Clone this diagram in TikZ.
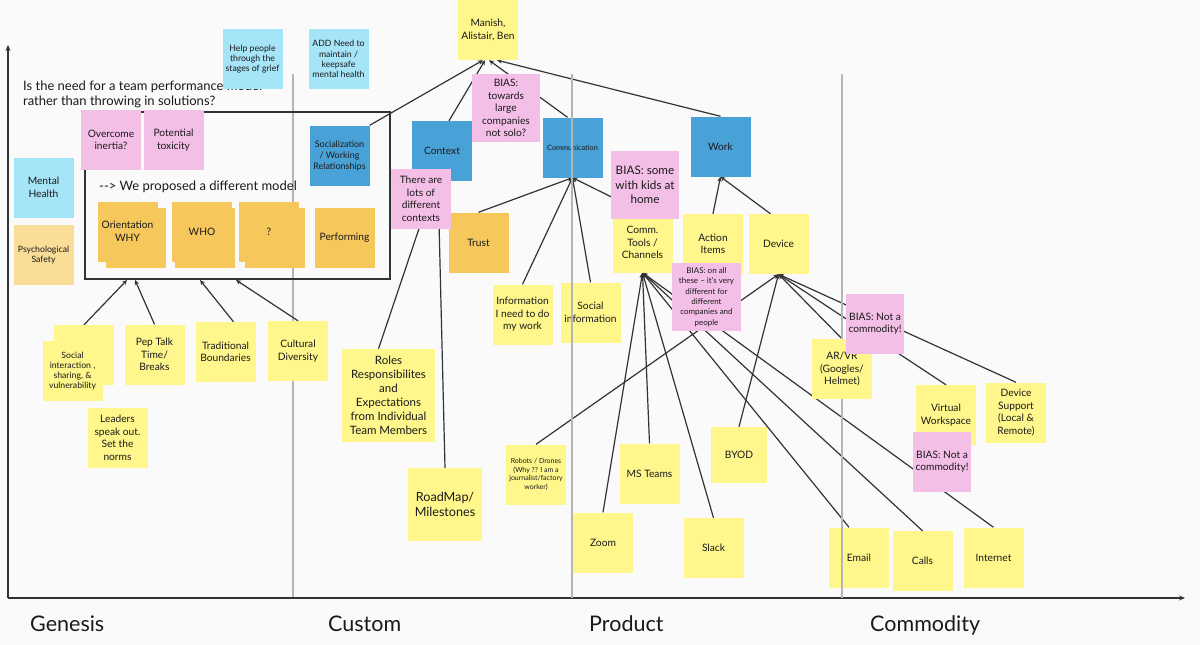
\documentclass[tikz,border=0pt]{standalone}
\usepackage{fontspec}
\setmainfont{Lato}
\usetikzlibrary{arrows.meta}

\definecolor{paper}{HTML}{FAFAFA}
\definecolor{ink}{HTML}{1A1A1A}
\definecolor{linkgrey}{HTML}{333333}
\definecolor{sepgrey}{HTML}{B5B5B5}
\definecolor{notey}{HTML}{FFF78C}
\definecolor{notep}{HTML}{F4BFE6}
\definecolor{notec}{HTML}{A6E4F7}
\definecolor{noteb}{HTML}{49A2D7}
\definecolor{noteo}{HTML}{F6C75B}
\definecolor{notel}{HTML}{FADD96}

\pgfdeclarelayer{back}
\pgfdeclarelayer{links}
\pgfdeclarelayer{over}
\pgfdeclarelayer{top}
\pgfsetlayers{back,links,main,over,top}

\newcommand{\notefont}{\fontsize{10.2}{12.5}\selectfont}
\newcommand{\notesmall}{\fontsize{8.7}{10.3}\selectfont}
\newcommand{\notetiny}{\fontsize{7}{8.7}\selectfont}
\newcommand{\notebig}{\fontsize{11.7}{14.2}\selectfont}
\newcommand{\headfont}{\fontsize{13}{15}\selectfont}
\newcommand{\axisfont}{\fontsize{21.5}{24}\selectfont}

\begin{document}
\begin{tikzpicture}[x=1pt,y=-1pt,
  note/.style={minimum width=60pt,minimum height=60pt,inner sep=1pt,align=center,font=\notefont,text=ink},
  ynote/.style={note,fill=notey},
  pnote/.style={note,fill=notep},
  cnote/.style={note,fill=notec},
  bnote/.style={note,fill=noteb},
  onote/.style={note,fill=noteo},
  lnote/.style={note,fill=notel},
  link/.style={draw=linkgrey,line width=1.2pt,-{Stealth[length=5pt,width=4.5pt]}},
  sep/.style={draw=sepgrey,line width=1.2pt},
  axis/.style={draw=linkgrey,line width=1.6pt,-{Stealth[length=6pt,width=5pt]}},
  label/.style={anchor=base west,inner sep=0pt,text=ink}]

\useasboundingbox (0,0) rectangle (1200,645);
\begin{pgfonlayer}{back}
\fill[paper] (0,0) rectangle (1200,645);
\draw[sep] (293,74) -- (293,598);
\end{pgfonlayer}

\coordinate (origin) at (8,598);
\coordinate (ytop) at (8,45);
\coordinate (xend) at (1185,598);
\draw[axis] (origin) -- (ytop);
\draw[axis] (origin) -- (xend);

\node[label,font=\axisfont] (genesis) at (30,631) {Genesis};
\node[label,font=\axisfont] (custom) at (328,631) {Custom};
\node[label,font=\axisfont] (product) at (589,631) {Product};
\node[label,font=\axisfont] (commodity) at (870,631) {Commodity};

\node[label,font=\headfont] (ask1) at (23,90) {Is the need for a team performance model};
\node[label,font=\headfont] (ask2) at (23,105) {rather than throwing in solutions?};

\node[draw=linkgrey,line width=2pt,minimum width=305pt,minimum height=167pt,inner sep=0pt] (model) at (237.5,195.5) {};
\node[label,font=\headfont] (proposal) at (99,190) {-{}-> We proposed a different model};

\node[cnote,font=\notesmall] (grief) at (252.5,59) {Help people\\through the\\stages of grief};
\node[cnote,font=\notesmall] (keep) at (338.5,59) {ADD Need to\\maintain /\\keepsafe\\mental health};
\node[cnote] (mental) at (43.5,187.5) {Mental\\Health};
\node[lnote,font=\notesmall] (psych) at (43.5,255) {Psychological\\Safety};
\node[pnote] (inertia) at (111,140) {Overcome\\inertia?};
\node[pnote] (toxic) at (173.5,140) {Potential\\toxicity};

\node[onote] (whyb) at (135.5,237.5) {};
\node[onote] (why) at (127.5,231.5) {Orientation\\WHY};
\node[onote] (whob) at (205,237.5) {};
\node[onote] (who) at (202,231.5) {WHO};
\node[onote] (qb) at (275,237.5) {};
\node[onote] (q) at (269,231.5) {?};
\node[onote] (perf) at (344.5,237.5) {Performing};
\node[bnote,font=\fontsize{9}{11}\selectfont] (soc) at (339.5,155.5) {Socialization\\/ Working\\Relationships};

\node[ynote] (manish) at (488,30) {Manish,\\Alistair, Ben};
\node[pnote,minimum width=68pt,minimum height=68pt] (bigco) at (506,108) {BIAS:\\towards\\large\\companies\\not solo?};
\node[bnote] (ctx) at (442,151) {Context};
\node[bnote,font=\fontsize{7.3}{9}\selectfont] (comm) at (572.5,147.5) {Communication};
\node[bnote] (work) at (720.5,146.5) {Work};
\node[onote] (trust) at (478.5,242.5) {Trust};
\node[pnote] (ctxs) at (421,199) {There are\\lots of\\different\\contexts};

\node[ynote] (tools) at (642.5,242.5) {Comm.\\Tools /\\Channels};
\node[pnote,font=\notebig,minimum width=68pt,minimum height=68pt] (kids) at (645,185) {BIAS: some\\with kids at\\home};
\node[ynote] (action) at (713,244) {Action\\Items};
\node[ynote] (device) at (778.5,244) {Device};
\node[pnote,font=\fontsize{8}{10.3}\selectfont,minimum width=69pt,minimum height=68pt] (allbias) at (706.5,297) {BIAS: on all\\these -- it's very\\different for\\different\\companies and\\people};
\node[ynote] (info) at (522.5,314.5) {Information\\I need to do\\my work};
\node[ynote] (socinfo) at (590.5,312.5) {Social\\information};

\node[ynote,font=\fontsize{11.5}{14}\selectfont,minimum width=93pt,minimum height=93pt] (roles) at (388.5,395.5) {Roles\\Responsibilites\\and\\Expectations\\from Individual\\Team Members};
\node[ynote,font=\fontsize{12.6}{15}\selectfont,minimum width=74pt,minimum height=73pt] (roadmap) at (445,504.5) {RoadMap/\\Milestones};

\node[ynote] (socintb) at (84,355) {};
\node[ynote,font=\notesmall] (socint) at (72.5,371) {Social\\interaction ,\\sharing, \&\\vulnerability};
\node[ynote] (pep) at (154.5,354.5) {Pep Talk\\Time/\\Breaks};
\node[ynote] (trad) at (225.5,352) {Traditional\\Boundaries};
\node[ynote] (cult) at (298,351) {Cultural\\Diversity};
\node[ynote] (leaders) at (117.5,438) {Leaders\\speak out.\\Set the\\norms};

\node[ynote,font=\notetiny] (robots) at (536,474.5) {Robots / Drones\\(Why ?? I am a\\journalist/factory\\worker)};
\node[ynote] (msteams) at (649.5,473.5) {MS Teams};
\node[ynote,minimum width=56pt,minimum height=56pt] (byod) at (739,455) {BYOD};
\node[ynote] (zoom) at (603,542.5) {Zoom};
\node[ynote] (slack) at (713.5,548) {Slack};
\node[ynote] (email) at (859,557.5) {Email};
\node[ynote] (calls) at (922.5,561) {Calls};
\node[ynote] (internet) at (993.5,557.5) {Internet};

\node[ynote] (virtual) at (946,415) {Virtual\\Workspace};
\node[ynote] (devsup) at (1016,412.5) {Device\\Support\\(Local \&\\Remote)};
\node[pnote,minimum width=58pt] (nc2) at (942,461.5) {BIAS: Not a\\commodity!};

\begin{pgfonlayer}{over}
\draw[sep] (572,74) -- (572,598);
\draw[sep] (842,74) -- (842,598);
\end{pgfonlayer}

\begin{pgfonlayer}{top}
\node[ynote] (arvr) at (842,369) {AR/VR\\(Googles/\\Helmet)};
\node[pnote,minimum width=58pt] (nc1) at (875,323.5) {BIAS: Not a\\commodity!};
\end{pgfonlayer}

\begin{pgfonlayer}{links}
\draw[link] (soc.north east) -- ([xshift=-5pt]manish.south);
\draw[link] ([xshift=7pt]ctx.north) -- ([xshift=-3pt]manish.south);
\draw[link] ([xshift=-5pt]comm.north) -- ([xshift=1pt]manish.south);
\draw[link] (work.north) -- ([xshift=9pt]manish.south);
\draw[link] (trust.north) -- (comm.south);
\draw[link] (info.north) -- (comm.south);
\draw[link] (socinfo.north) -- (comm.south);
\draw[link] (tools.north) -- (comm.south);
\draw[link] (action.north) -- (work.south);
\draw[link] ([xshift=-8pt]device.north) -- (work.south);
\draw[link] ([xshift=-10pt]roles.north) -- ([xshift=-7pt]ctx.south);
\draw[link] (roadmap.north) -- ([xshift=-4pt]ctx.south);
\draw[link] (socintb.north) -- ([xshift=43pt]model.south west);
\draw[link] (pep.north) -- ([xshift=51pt]model.south west);
\draw[link] ([xshift=8pt]trad.north) -- ([xshift=116pt]model.south west);
\draw[link] (cult.north) -- ([xshift=152pt]model.south west);
\draw[link] (zoom.north) -- (tools.south);
\draw[link] (msteams.north) -- (tools.south);
\draw[link] (slack.north) -- (tools.south);
\draw[link] ([xshift=-10pt]email.north) -- (tools.south);
\draw[link] (calls.north) -- (tools.south);
\draw[link] (internet.north) -- (tools.south);
\draw[link] (robots.north) -- (device.south);
\draw[link] (byod.north) -- (device.south);
\draw[link] (arvr.north) -- (device.south);
\draw[link] (virtual.north) -- (device.south);
\draw[link] (devsup.north) -- (device.south);
\end{pgfonlayer}

\end{tikzpicture}
\end{document}
